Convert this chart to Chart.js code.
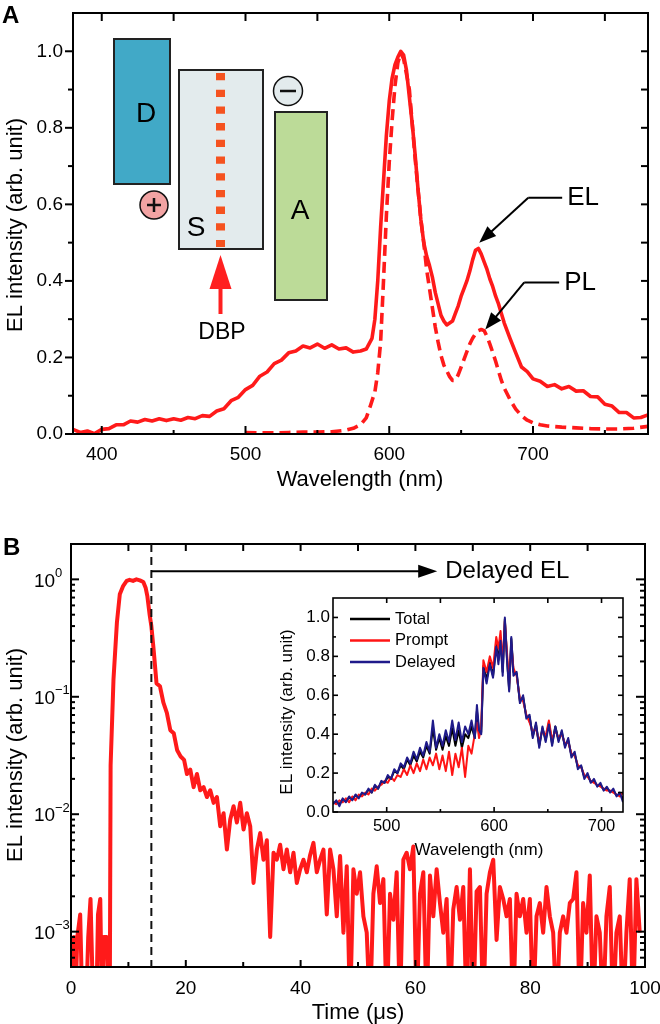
<!DOCTYPE html>
<html>
<head>
<meta charset="utf-8">
<script src="https://cdn.jsdelivr.net/npm/chart.js@4.4.1/dist/chart.umd.min.js"></script>
<style>
  html, body { margin: 0; padding: 0; background: #fff; }
  #wrap { position: relative; width: 660px; height: 1024px; }
  canvas { position: absolute; }
  #chartA { left: 0; top: 0; }
  #chartB { left: 0; top: 500px; }
  #chartInset { left: 270px; top: 590px; }
</style>
</head>
<body>
<div id="wrap">
  <canvas id="chartA" width="660" height="500"></canvas>
  <canvas id="chartB" width="660" height="524"></canvas>
  <canvas id="chartInset" width="370" height="280"></canvas>
</div>
<script>
const FONT = "'Liberation Sans', Arial, Helvetica, sans-serif";

// ---- panel A: EL and PL spectra ----
const elWave = [380, 385, 390, 395, 400, 405, 410, 415, 420, 425, 430, 435, 440, 445, 450, 455, 460, 465, 470, 475,
  480, 485, 490, 495, 500, 505, 510, 515, 520, 525, 530, 535, 540, 545, 550, 555, 560, 565, 570, 575, 580,
  584, 588, 590, 592, 594, 596, 598, 600, 602, 604, 606, 608, 610, 612, 614, 616, 618, 620, 622, 624, 626, 628,
  630, 632, 634, 636, 638, 640, 642, 644, 646, 648, 650, 652, 654, 656, 658, 660, 662, 664, 666, 668, 670, 672,
  674, 676, 678, 680, 684, 688, 692, 696, 700, 705, 710, 715, 720, 725, 730, 735, 740, 745, 750, 755, 760, 765,
  770, 775, 780];
const elValue = [0.012, 0.004, 0.008, 0.001, 0.012, 0.014, 0.024, 0.024, 0.034, 0.031, 0.038, 0.034, 0.040, 0.035, 0.040, 0.036, 0.043, 0.040, 0.048, 0.046,
  0.060, 0.066, 0.087, 0.096, 0.116, 0.127, 0.151, 0.162, 0.184, 0.193, 0.212, 0.217, 0.230, 0.225, 0.235, 0.224, 0.233, 0.222, 0.225, 0.214, 0.217,
  0.222, 0.25, 0.30, 0.40, 0.54, 0.66, 0.78, 0.87, 0.93, 0.965, 0.985, 1.0, 0.99, 0.95, 0.88, 0.81, 0.73, 0.64, 0.56, 0.50, 0.465, 0.44,
  0.41, 0.37, 0.34, 0.31, 0.295, 0.285, 0.29, 0.295, 0.315, 0.335, 0.36, 0.38, 0.40, 0.425, 0.455, 0.48, 0.485, 0.47, 0.45, 0.43, 0.405, 0.385,
  0.36, 0.34, 0.315, 0.29, 0.25, 0.212, 0.175, 0.163, 0.144, 0.138, 0.124, 0.129, 0.118, 0.124, 0.112, 0.113, 0.098, 0.097, 0.078, 0.073, 0.056, 0.056,
  0.042, 0.043, 0.050];
const plWave = [500, 510, 520, 530, 540, 550, 560, 570, 575, 580, 584, 587, 590, 592, 594, 596, 598, 600, 602, 604,
  606, 608, 610, 612, 614, 616, 618, 620, 622, 624, 626, 628, 630, 632, 634, 636, 638, 640, 642, 644, 646, 648,
  650, 652, 654, 656, 658, 660, 662, 664, 666, 668, 670, 672, 674, 676, 678, 680, 684, 688, 692, 696, 700, 705,
  710, 720, 730, 740, 750, 760, 770, 780];
const plValue = [0.004, 0.003, 0.003, 0.004, 0.005, 0.005, 0.006, 0.010, 0.015, 0.024, 0.042, 0.075, 0.11, 0.16, 0.24, 0.40, 0.57, 0.71, 0.82, 0.91,
  0.97, 0.995, 0.98, 0.94, 0.90, 0.81, 0.72, 0.64, 0.56, 0.50, 0.43, 0.38, 0.33, 0.28, 0.24, 0.205, 0.18, 0.165, 0.15, 0.14, 0.14, 0.155,
  0.175, 0.195, 0.215, 0.235, 0.25, 0.262, 0.27, 0.273, 0.27, 0.255, 0.235, 0.213, 0.19, 0.165, 0.14, 0.12, 0.09, 0.065, 0.048, 0.036, 0.029, 0.024,
  0.021, 0.018, 0.016, 0.014, 0.013, 0.013, 0.015, 0.02];
const aXTicks = [400, 500, 600, 700];
const aYTicks = [0, 0.2, 0.4, 0.6, 0.8, 1.0];

// ---- panel B: EL transient (log scale) ----
const bEarlyTime = [0, 0.3, 0.5, 0.7, 1.1, 1.6, 2.0, 2.6, 3.0, 3.4, 3.9, 4.4, 4.7, 5.1, 5.4, 5.7, 6.2, 6.6, 6.75, 6.9,
  7.4, 8.0, 8.5, 9.1, 9.7, 10.2, 10.8, 11.4, 12.0, 12.6, 13.0, 13.3, 13.7, 14.0, 14.4, 14.9, 15.5, 16.1, 16.7, 17.3,
  17.9, 18.5, 19.1, 19.7];
const bEarlyValue = [0.0002, 0.0002, 0.0009, 0.0002, 0.0009, 0.0014, 0.0002, 0.0002, 0.0009, 0.0019, 0.0002, 0.0002, 0.0014, 0.0019, 0.0002, 0.0009, 0.0009, 0.0002, 0.0002, 0.026,
  0.14, 0.43, 0.745, 0.88, 0.97, 0.99, 0.97, 1.0, 0.98, 0.95, 0.85, 0.72, 0.50, 0.40, 0.25, 0.13, 0.123, 0.089, 0.073, 0.052,
  0.049, 0.035, 0.031, 0.029];
// tail is sampled every 0.58 us starting at 20.2 us
const bTailStart = 20.2;
const bTailStep = 0.58;
const bTailValue = [0.022, 0.024, 0.017, 0.022, 0.016, 0.017, 0.014, 0.016, 0.0125, 0.014,
  0.0079, 0.0102, 0.005, 0.009, 0.0117, 0.0085, 0.0125, 0.0074, 0.0102, 0.0079,
  0.0026, 0.005, 0.0069, 0.0041, 0.006, 0.0009, 0.0047, 0.0041, 0.0055, 0.0034,
  0.005, 0.0032, 0.0047, 0.0026, 0.0034, 0.0041, 0.0032, 0.0045, 0.0057, 0.0032,
  0.0041, 0.005, 0.0014,
  0.0050, 0.0034, 0.00135, 0.0044, 0.00098, 0.0036, 0.0002, 0.0034, 0.0021, 0.0032,
  0.00135, 0.00098, 0.0002, 0.0021, 0.0036, 0.00175, 0.0028, 0.0002, 0.0021, 0.00126,
  0.0032, 0.0002, 0.0041, 0.0047, 0.0034, 0.0053, 0.0002, 0.0021, 0.0032, 0.0002,
  0.0030, 0.00135, 0.0034, 0.00175, 0.00098, 0.0019, 0.0002, 0.00155, 0.0024, 0.00126,
  0.0024, 0.0002, 0.0034, 0.0002, 0.0022, 0.0024, 0.0002, 0.0021, 0.0032, 0.0041,
  0.00085, 0.0024, 0.0019, 0.00135, 0.0019, 0.0002, 0.0021, 0.00135, 0.0019, 0.00098,
  0.0019, 0.0002, 0.00135, 0.00175, 0.00098, 0.0024, 0.00135, 0.00098, 0.0002, 0.00098,
  0.00135, 0.00098, 0.00175, 0.0019, 0.0032, 0.0002, 0.00175, 0.00098, 0.0030, 0.0002,
  0.00135, 0.00098, 0.0002, 0.00135, 0.0024, 0.0002, 0.00098, 0.00135, 0.0002, 0.00098,
  0.0028, 0.0002, 0.0028, 0.00098];
const bXTicks = [0, 20, 40, 60, 80, 100];
const bYTicks = [1e-3, 1e-2, 1e-1, 1];
const bGateTime = 14;

// ---- inset: spectra of total / prompt / delayed EL ----
const insetWave = [450, 453, 456, 459, 462, 465, 468, 471, 474, 477, 480, 483, 486, 489, 492, 495, 498, 501, 504, 507,
  510, 513, 516, 519, 522, 525, 528, 531, 534, 537, 540, 543, 546, 549, 552, 555, 558, 561, 564, 567, 570, 573, 576, 579, 582,
  584, 586, 588, 590, 593, 596, 599, 602, 604, 606, 608, 610, 612, 614, 616, 618,
  621, 624, 627, 630, 633, 636, 639, 642, 645, 648, 651, 654, 657, 660, 663, 666, 669, 672, 675, 678, 681, 684, 687,
  690, 693, 696, 699, 702, 705, 708, 711, 714, 717, 720];
const insetTotal = [0.045, 0.055, 0.04, 0.065, 0.055, 0.075, 0.065, 0.085, 0.075, 0.095, 0.09, 0.115, 0.10, 0.135, 0.12, 0.155, 0.15, 0.18, 0.17, 0.21,
  0.20, 0.24, 0.22, 0.27, 0.24, 0.29, 0.26, 0.31, 0.28, 0.34, 0.30, 0.43, 0.32, 0.38, 0.32, 0.39, 0.34, 0.43, 0.34, 0.42, 0.33, 0.40, 0.38, 0.44, 0.38,
  0.52, 0.41, 0.41, 0.75, 0.68, 0.77, 0.70, 0.86, 0.78, 0.89, 0.72, 0.99, 0.79, 0.63, 0.89, 0.72,
  0.71, 0.57, 0.59, 0.49, 0.49, 0.39, 0.45, 0.34, 0.43, 0.37, 0.46, 0.35, 0.44, 0.37, 0.41, 0.34, 0.37, 0.29, 0.30, 0.23, 0.235, 0.18, 0.19,
  0.155, 0.16, 0.135, 0.14, 0.115, 0.12, 0.105, 0.11, 0.085, 0.09, 0.07];
const insetPrompt = [0.05, 0.04, 0.06, 0.05, 0.07, 0.05, 0.08, 0.06, 0.09, 0.08, 0.10, 0.09, 0.12, 0.11, 0.13, 0.14, 0.16, 0.15, 0.18, 0.16,
  0.19, 0.18, 0.22, 0.19, 0.24, 0.20, 0.25, 0.21, 0.27, 0.22, 0.28, 0.24, 0.30, 0.22, 0.29, 0.21, 0.31, 0.19, 0.30, 0.23, 0.33, 0.18, 0.34, 0.30, 0.40,
  0.46, 0.38, 0.44, 0.78, 0.72, 0.80, 0.74, 0.90, 0.84, 0.93, 0.76, 0.98, 0.82, 0.66, 0.86, 0.74,
  0.70, 0.58, 0.57, 0.50, 0.46, 0.41, 0.43, 0.36, 0.42, 0.39, 0.47, 0.37, 0.42, 0.38, 0.40, 0.35, 0.36, 0.30, 0.29, 0.24, 0.23, 0.19, 0.18,
  0.16, 0.15, 0.14, 0.13, 0.12, 0.11, 0.11, 0.10, 0.09, 0.08, 0.10];
const insetDelayed = [0.04, 0.06, 0.03, 0.07, 0.05, 0.08, 0.06, 0.09, 0.07, 0.10, 0.09, 0.12, 0.10, 0.14, 0.12, 0.16, 0.15, 0.19, 0.17, 0.22,
  0.20, 0.25, 0.23, 0.28, 0.25, 0.31, 0.27, 0.33, 0.29, 0.36, 0.31, 0.47, 0.33, 0.40, 0.34, 0.42, 0.36, 0.47, 0.37, 0.46, 0.36, 0.44, 0.40, 0.47, 0.38,
  0.55, 0.42, 0.40, 0.74, 0.66, 0.76, 0.69, 0.85, 0.76, 0.88, 0.70, 1.00, 0.78, 0.62, 0.90, 0.70,
  0.72, 0.56, 0.60, 0.48, 0.50, 0.38, 0.46, 0.33, 0.44, 0.36, 0.45, 0.34, 0.44, 0.36, 0.42, 0.33, 0.38, 0.28, 0.31, 0.22, 0.24, 0.17, 0.20,
  0.15, 0.17, 0.13, 0.15, 0.11, 0.13, 0.10, 0.12, 0.08, 0.10, 0.05];
const insetXTicks = [500, 600, 700];
const insetYTicks = [0, 0.2, 0.4, 0.6, 0.8, 1.0];

const RED = '#ff1a1a';

function pairs(xs, ys) {
  return xs.map((x, i) => ({ x: x, y: ys[i] }));
}

function text(ctx, str, x, y, size, opts) {
  opts = opts || {};
  ctx.save();
  ctx.font = (opts.bold ? 'bold ' : '') + size + 'px ' + FONT;
  ctx.fillStyle = opts.color || '#000';
  ctx.textAlign = opts.align || 'center';
  ctx.textBaseline = 'middle';
  ctx.translate(x, y);
  if (opts.rotate) ctx.rotate(opts.rotate);
  ctx.fillText(str, 0, 0);
  ctx.restore();
}

// line from (x0,y0) to (x1,y1) finished with a filled head at (x1,y1)
function arrow(ctx, x0, y0, x1, y1, len, half, color, width) {
  const ang = Math.atan2(y1 - y0, x1 - x0);
  const c = Math.cos(ang), s = Math.sin(ang);
  ctx.save();
  ctx.strokeStyle = color;
  ctx.fillStyle = color;
  ctx.lineWidth = width;
  ctx.beginPath();
  ctx.moveTo(x0, y0);
  ctx.lineTo(x1 - len * c * 0.8, y1 - len * s * 0.8);
  ctx.stroke();
  ctx.beginPath();
  ctx.moveTo(x1, y1);
  ctx.lineTo(x1 - len * c + half * s, y1 - len * s - half * c);
  ctx.lineTo(x1 - len * c - half * s, y1 - len * s + half * c);
  ctx.closePath();
  ctx.fill();
  ctx.restore();
}

// box round the plot plus tick marks; len > 0 points inwards, len < 0 outwards
function framePlugin(lineWidth, marks) {
  return {
    id: 'frame',
    afterDatasetsDraw(chart) {
      const ctx = chart.ctx, a = chart.chartArea;
      ctx.save();
      ctx.strokeStyle = '#000';
      ctx.lineWidth = lineWidth;
      ctx.strokeRect(a.left, a.top, a.right - a.left, a.bottom - a.top);
      marks.forEach(m => {
        const scale = chart.scales[m.axis];
        m.values.forEach(v => {
          const p = scale.getPixelForValue(v);
          ctx.beginPath();
          if (m.side === 'bottom') { ctx.moveTo(p, a.bottom); ctx.lineTo(p, a.bottom - m.len); }
          if (m.side === 'top') { ctx.moveTo(p, a.top); ctx.lineTo(p, a.top + m.len); }
          if (m.side === 'left') { ctx.moveTo(a.left, p); ctx.lineTo(a.left + m.len, p); }
          if (m.side === 'right') { ctx.moveTo(a.right, p); ctx.lineTo(a.right - m.len, p); }
          ctx.stroke();
        });
      });
      ctx.restore();
    }
  };
}

function logMinors(min, max) {
  const out = [];
  for (let e = -4; e <= 0; e++) {
    for (let k = 2; k <= 9; k++) {
      const v = k * Math.pow(10, e);
      if (v >= min && v <= max) out.push(v);
    }
  }
  return out;
}

// the scales keep a fixed size so the plot areas line up with the figure
function noPad(s) {
  s.paddingTop = 0;
  s.paddingBottom = 0;
  s.paddingLeft = 0;
  s.paddingRight = 0;
}

function baseScales(o) {
  return {
    x: {
      type: 'linear', min: o.xMin, max: o.xMax,
      grid: { display: false, drawTicks: false }, border: { display: false },
      ticks: { font: { size: o.xFont }, color: '#000', padding: o.xPad, maxRotation: 0 },
      afterBuildTicks: s => { s.ticks = o.xTicks.map(v => ({ value: v })); },
      afterFit: s => { s.height = o.xHeight; noPad(s); }
    },
    y: {
      type: o.yType || 'linear', min: o.yMin, max: o.yMax,
      grid: { display: false, drawTicks: false }, border: { display: false },
      ticks: { display: o.yLabels !== false, font: { size: o.yFont }, color: '#000', padding: o.yPad,
        callback: v => Number(v).toFixed(1) },
      afterBuildTicks: s => { s.ticks = o.yTicks.map(v => ({ value: v })); },
      afterFit: s => { s.width = o.yWidth; noPad(s); }
    }
  };
}

const common = {
  responsive: false,
  animation: false,
  devicePixelRatio: 1,
  events: [],
  plugins: { legend: { display: false }, tooltip: { enabled: false } },
  elements: { point: { radius: 0 }, line: { tension: 0, borderJoinStyle: 'round', borderCapStyle: 'butt' } }
};

const Charts = {
  init() {
    Chart.defaults.font.family = FONT;
    Chart.defaults.color = '#000';
    this.panelA();
    this.panelB();
    this.inset();
  },

  panelA() {
    const decor = {
      id: 'decorA',
      afterDraw(chart) {
        const ctx = chart.ctx;
        const xs = chart.scales.x, ys = chart.scales.y;
        text(ctx, 'A', 2, 16, 24, { bold: true, align: 'left' });
        text(ctx, 'EL intensity (arb. unit)', 16, 225, 22, { rotate: -Math.PI / 2 });
        text(ctx, 'Wavelength (nm)', 360, 480, 22);

        ctx.save();
        ctx.strokeStyle = '#222';
        ctx.lineWidth = 2;
        // donor, spacer, acceptor levels
        ctx.fillStyle = '#41a9c7';
        ctx.fillRect(114, 39, 56, 145);
        ctx.strokeRect(114, 39, 56, 145);
        ctx.fillStyle = '#e3ebed';
        ctx.fillRect(179, 70, 84, 179);
        ctx.strokeRect(179, 70, 84, 179);
        ctx.fillStyle = '#bcdb98';
        ctx.fillRect(275, 112, 52, 188);
        ctx.strokeRect(275, 112, 52, 188);
        // DBP dopant layer
        ctx.strokeStyle = '#f5521f';
        ctx.lineWidth = 9;
        ctx.setLineDash([7.3, 9.4]);
        ctx.beginPath();
        ctx.moveTo(220.5, 73);
        ctx.lineTo(220.5, 247);
        ctx.stroke();
        ctx.setLineDash([]);
        // hole and electron
        ctx.lineWidth = 1.5;
        ctx.strokeStyle = '#111';
        ctx.fillStyle = '#f2a3a3';
        ctx.beginPath(); ctx.arc(154, 205, 14, 0, Math.PI * 2); ctx.fill(); ctx.stroke();
        ctx.fillStyle = '#e3ebed';
        ctx.beginPath(); ctx.arc(288, 91, 14.5, 0, Math.PI * 2); ctx.fill(); ctx.stroke();
        ctx.lineWidth = 2.5;
        ctx.beginPath();
        ctx.moveTo(147, 205); ctx.lineTo(161, 205);
        ctx.moveTo(154, 198); ctx.lineTo(154, 212);
        ctx.moveTo(280, 91); ctx.lineTo(296, 91);
        ctx.stroke();
        ctx.restore();
        text(ctx, 'D', 146, 114, 28);
        text(ctx, 'S', 196, 228, 28);
        text(ctx, 'A', 300, 211, 28);
        arrow(ctx, 220.5, 314, 220.5, 255, 34, 11, '#ff2020', 4);
        text(ctx, 'DBP', 222, 333, 23);

        // EL / PL labels with pointers
        ctx.save();
        ctx.strokeStyle = '#000';
        ctx.lineWidth = 2;
        ctx.beginPath();
        ctx.moveTo(xs.getPixelForValue(696.7), ys.getPixelForValue(0.617));
        ctx.lineTo(xs.getPixelForValue(720.3), ys.getPixelForValue(0.617));
        ctx.moveTo(xs.getPixelForValue(693.9), ys.getPixelForValue(0.396));
        ctx.lineTo(xs.getPixelForValue(718.2), ys.getPixelForValue(0.396));
        ctx.stroke();
        ctx.restore();
        arrow(ctx, xs.getPixelForValue(696.7), ys.getPixelForValue(0.617),
          xs.getPixelForValue(662.6), ys.getPixelForValue(0.5), 17, 6.5, '#000', 2);
        arrow(ctx, xs.getPixelForValue(693.9), ys.getPixelForValue(0.396),
          xs.getPixelForValue(666.8), ys.getPixelForValue(0.273), 17, 6.5, '#000', 2);
        text(ctx, 'EL', xs.getPixelForValue(723.8), ys.getPixelForValue(0.617), 26, { align: 'left' });
        text(ctx, 'PL', xs.getPixelForValue(721.7), ys.getPixelForValue(0.396), 26, { align: 'left' });
      }
    };

    const frame = framePlugin(2, [
      { axis: 'y', side: 'left', values: aYTicks, len: -8 },
      { axis: 'y', side: 'left', values: [0.1, 0.3, 0.5, 0.7, 0.9], len: -5 },
      { axis: 'y', side: 'right', values: [0.1, 0.2, 0.3, 0.4, 0.5, 0.6, 0.7, 0.8, 0.9, 1.0], len: 7 },
      { axis: 'x', side: 'bottom', values: aXTicks, len: 8 },
      { axis: 'x', side: 'bottom', values: [450, 550, 650, 750], len: 4 },
      { axis: 'x', side: 'top', values: [400, 450, 500, 550, 600, 650, 700, 750], len: 8 }
    ]);

    new Chart(document.getElementById('chartA'), {
      type: 'line',
      data: {
        datasets: [{
          label: 'EL',
          data: pairs(elWave, elValue),
          borderColor: RED,
          borderWidth: 3.6
        }, {
          label: 'PL',
          data: pairs(plWave, plValue),
          borderColor: RED,
          borderWidth: 3.6,
          borderDash: [11, 6]
        }]
      },
      options: Object.assign({}, common, {
        layout: { autoPadding: false, padding: { left: 0, top: 13, right: 12, bottom: 0 } },
        scales: baseScales({
          xMin: 380, xMax: 780, xTicks: aXTicks, xFont: 19, xPad: 9, xHeight: 66,
          yMin: 0, yMax: 1.1, yTicks: aYTicks, yFont: 19, yPad: 10, yWidth: 73
        })
      }),
      plugins: [frame, decor]
    });
  },

  panelB() {
    const tail = bTailValue.map((v, i) => ({ x: bTailStart + i * bTailStep, y: v }));
    const minors = logMinors(5e-4, 2);

    const decor = {
      id: 'decorB',
      afterDraw(chart) {
        const ctx = chart.ctx, a = chart.chartArea;
        const xs = chart.scales.x, ys = chart.scales.y;
        text(ctx, 'B', 3, 48, 24, { bold: true, align: 'left' });
        text(ctx, 'EL intensity (arb. unit)', 16, 255, 22, { rotate: -Math.PI / 2 });
        text(ctx, 'Time (\u03bcs)', 358, 513, 22);
        // decade labels 10^n
        bYTicks.forEach(v => {
          const y = ys.getPixelForValue(v);
          const exp = Math.round(Math.log10(v));
          text(ctx, '10', 34, y + 2, 19, { align: 'left' });
          text(ctx, exp === 0 ? '0' : '\u2212' + (-exp), 55, y - 6, 13, { align: 'left' });
        });
        // gate for the delayed part
        const gx = xs.getPixelForValue(bGateTime);
        ctx.save();
        ctx.strokeStyle = '#111';
        ctx.lineWidth = 2;
        ctx.setLineDash([8, 5]);
        ctx.beginPath();
        ctx.moveTo(gx, a.top);
        ctx.lineTo(gx, a.bottom);
        ctx.stroke();
        ctx.restore();
        const ay = ys.getPixelForValue(1.17);
        arrow(ctx, gx, ay, xs.getPixelForValue(63.8), ay, 19, 6.5, '#000', 2);
        text(ctx, 'Delayed EL', xs.getPixelForValue(65.2), ay, 24, { align: 'left' });
      }
    };

    const frame = framePlugin(2, [
      { axis: 'y', side: 'left', values: bYTicks, len: 8 },
      { axis: 'y', side: 'left', values: minors, len: 4 },
      { axis: 'y', side: 'right', values: bYTicks, len: 9 },
      { axis: 'y', side: 'right', values: minors, len: 5 },
      { axis: 'x', side: 'bottom', values: bXTicks, len: 7 },
      { axis: 'x', side: 'bottom', values: [10, 30, 50, 70, 90], len: 5 },
      { axis: 'x', side: 'top', values: [10, 20, 30, 40, 50, 60, 70, 80, 90], len: 7 }
    ]);

    const scales = baseScales({
      xMin: 0, xMax: 100, xTicks: bXTicks, xFont: 19, xPad: 10, xHeight: 57,
      yType: 'logarithmic', yMin: 5e-4, yMax: 2, yTicks: bYTicks, yLabels: false, yFont: 19, yPad: 10, yWidth: 71
    });

    new Chart(document.getElementById('chartB'), {
      type: 'line',
      data: {
        datasets: [{
          label: 'EL transient',
          data: pairs(bEarlyTime, bEarlyValue).concat(tail),
          borderColor: RED,
          borderWidth: 4
        }]
      },
      options: Object.assign({}, common, {
        layout: { autoPadding: false, padding: { left: 0, top: 44, right: 15, bottom: 0 } },
        scales: scales
      }),
      plugins: [frame, decor]
    });
  },

  inset() {
    const series = [
      { label: 'Total', values: insetTotal, color: '#000000', order: 2 },
      { label: 'Prompt', values: insetPrompt, color: '#ff1414', order: 1 },
      { label: 'Delayed', values: insetDelayed, color: '#1f1a8a', order: 0 }
    ];

    const decor = {
      id: 'decorInset',
      beforeDatasetsDraw(chart) {
        const ctx = chart.ctx, a = chart.chartArea;
        ctx.save();
        ctx.fillStyle = '#fff';
        ctx.fillRect(a.left, a.top, a.right - a.left, a.bottom - a.top);
        ctx.restore();
      },
      afterDraw(chart) {
        const ctx = chart.ctx;
        text(ctx, 'EL intensity (arb. unit)', 17, 122, 17, { rotate: -Math.PI / 2 });
        text(ctx, 'Wavelength (nm)', 209, 260, 17);
        series.forEach((s, i) => {
          const y = 29 + i * 21.5;
          ctx.save();
          ctx.strokeStyle = s.color;
          ctx.lineWidth = 2.5;
          ctx.beginPath();
          ctx.moveTo(80, y);
          ctx.lineTo(120, y);
          ctx.stroke();
          ctx.restore();
          text(ctx, s.label, 125, y, 16.5, { align: 'left' });
        });
      }
    };

    const frame = framePlugin(1.6, [
      { axis: 'y', side: 'left', values: insetYTicks, len: 5 },
      { axis: 'y', side: 'left', values: [0.1, 0.3, 0.5, 0.7, 0.9], len: 3 },
      { axis: 'y', side: 'right', values: [0.1, 0.2, 0.3, 0.4, 0.5, 0.6, 0.7, 0.8, 0.9, 1.0], len: 5 },
      { axis: 'x', side: 'bottom', values: insetXTicks, len: 5 },
      { axis: 'x', side: 'bottom', values: [550, 650], len: 3 },
      { axis: 'x', side: 'top', values: [500, 550, 600, 650, 700], len: 5 }
    ]);

    new Chart(document.getElementById('chartInset'), {
      type: 'line',
      data: {
        datasets: series.map(s => ({
          label: s.label,
          data: pairs(insetWave, s.values),
          borderColor: s.color,
          borderWidth: 2,
          order: s.order
        }))
      },
      options: Object.assign({}, common, {
        layout: { autoPadding: false, padding: { left: 0, top: 8, right: 17, bottom: 0 } },
        scales: baseScales({
          xMin: 450, xMax: 720, xTicks: insetXTicks, xFont: 16.5, xPad: 5, xHeight: 58,
          yMin: 0, yMax: 1.1, yTicks: insetYTicks, yFont: 17, yPad: 3, yWidth: 63
        })
      }),
      plugins: [decor, frame]
    });
  }
};

document.addEventListener('DOMContentLoaded', () => Charts.init());
</script>
</body>
</html>
